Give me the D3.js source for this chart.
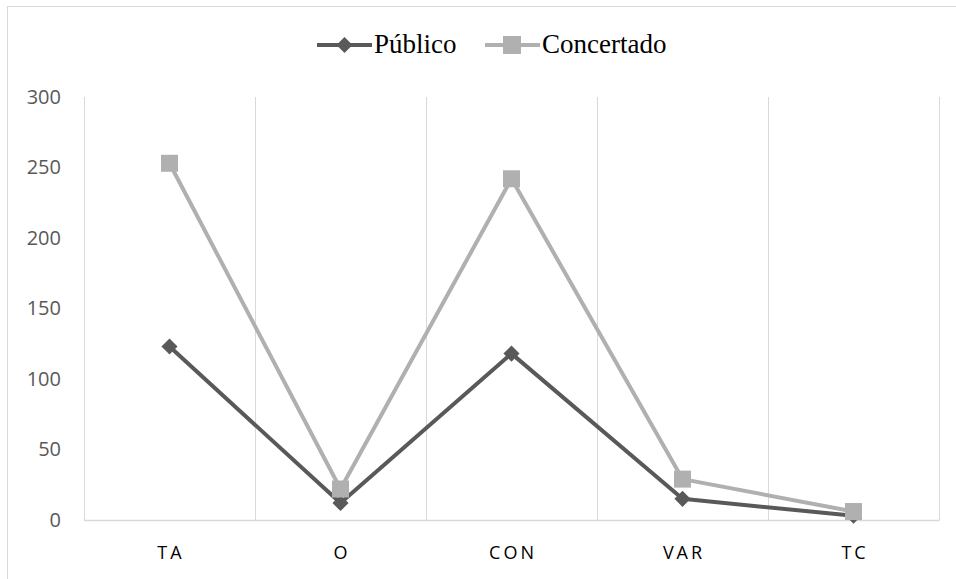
<!DOCTYPE html>
<html>
<head>
<meta charset="utf-8">
<script src="https://cdn.jsdelivr.net/npm/d3@7"></script>
<style>
  html, body { margin: 0; padding: 0; background: #fff; }
  svg { display: block; }
</style>
</head>
<body>
<svg id="chart" width="956" height="579"></svg>
<script>
// Categories and series
const categories = ["TA", "O", "CON", "VAR", "TC"];
const publico = [123, 12, 118, 15, 3];
const concertado = [253, 22, 242, 29, 6];
const yTicks = [0, 50, 100, 150, 200, 250, 300];
const seriesNames = ["Público", "Concertado"];

const svg = d3.select("#chart");
const W = 956, H = 579;
const plot = { left: 84, right: 939, top: 97, bottom: 520 };

// Outer frame (its right and bottom edges fall outside the canvas)
svg.append("rect")
  .attr("x", 7.5).attr("y", 6.5)
  .attr("width", W + 20).attr("height", H + 20)
  .attr("fill", "#fff").attr("stroke", "#d9d9d9").attr("stroke-width", 1);

const x = d3.scaleBand().domain(categories).range([plot.left, plot.right]).padding(0);
const y = d3.scaleLinear().domain([0, 300]).range([plot.bottom, plot.top]);

// Vertical gridlines at category boundaries
const bounds = categories.map(c => x(c)).concat([plot.right]);
svg.append("g").selectAll("line").data(bounds).join("line")
  .attr("x1", d => Math.round(d) + 0.5).attr("x2", d => Math.round(d) + 0.5)
  .attr("y1", plot.top).attr("y2", plot.bottom)
  .attr("stroke", "#d9d9d9").attr("stroke-width", 1);

// Baseline
svg.append("line")
  .attr("x1", plot.left).attr("x2", plot.right + 0.5)
  .attr("y1", y(0) + 0.5).attr("y2", y(0) + 0.5)
  .attr("stroke", "#d9d9d9").attr("stroke-width", 1.5);

// Y axis labels
const yAxis = d3.axisLeft(y).tickValues(yTicks).tickSize(0).tickPadding(23);
const gy = svg.append("g").attr("transform", `translate(${plot.left},0)`).call(yAxis);
gy.select(".domain").remove();
gy.selectAll("text")
  .attr("font-family", "Open Sans, Liberation Sans, sans-serif")
  .attr("font-size", 20).attr("fill", "#595959");

// X axis labels
const xAxis = d3.axisBottom(x).tickSize(0).tickPadding(26);
const gx = svg.append("g").attr("transform", `translate(0,${plot.bottom})`).call(xAxis);
gx.select(".domain").remove();
gx.selectAll("text")
  .attr("font-family", "Open Sans, Liberation Sans, sans-serif")
  .attr("font-size", 18).attr("fill", "#000")
  .attr("letter-spacing", "3px")
  .attr("dx", "1.5px");

const cx = c => x(c) + x.bandwidth() / 2;
const line = d3.line().x(d => cx(d.c)).y(d => y(d.v));

const dark = "#595959", light = "#b0b0b0";
const concData = categories.map((c, i) => ({ c, v: concertado[i] }));
const pubData = categories.map((c, i) => ({ c, v: publico[i] }));

const diamond = d3.symbol().type(d3.symbolDiamond2).size(165);

// Público series
svg.append("path").datum(pubData)
  .attr("d", line).attr("fill", "none")
  .attr("stroke", dark).attr("stroke-width", 4).attr("stroke-linejoin", "round");
svg.append("g").selectAll("path").data(pubData).join("path")
  .attr("d", diamond)
  .attr("transform", d => `translate(${cx(d.c)},${y(d.v)})`)
  .attr("fill", dark);

// Concertado series
svg.append("path").datum(concData)
  .attr("d", line).attr("fill", "none")
  .attr("stroke", light).attr("stroke-width", 4).attr("stroke-linejoin", "round");
svg.append("g").selectAll("rect").data(concData).join("rect")
  .attr("x", d => cx(d.c) - 8.5).attr("y", d => y(d.v) - 8.5)
  .attr("width", 17).attr("height", 17)
  .attr("fill", light);

// Legend
const legend = svg.append("g");
const legendItems = [
  { name: seriesNames[0], color: dark, x0: 317, kind: "diamond" },
  { name: seriesNames[1], color: light, x0: 485, kind: "square" }
];
legendItems.forEach(it => {
  const ly = 45;
  legend.append("line")
    .attr("x1", it.x0).attr("x2", it.x0 + 55)
    .attr("y1", ly).attr("y2", ly)
    .attr("stroke", it.color).attr("stroke-width", 4);
  if (it.kind === "diamond") {
    legend.append("path").attr("d", diamond)
      .attr("transform", `translate(${it.x0 + 27.5},${ly})`).attr("fill", it.color);
  } else {
    legend.append("rect")
      .attr("x", it.x0 + 18).attr("y", ly - 9).attr("width", 18).attr("height", 18)
      .attr("fill", it.color);
  }
  legend.append("text")
    .attr("x", it.x0 + 57).attr("y", ly + 8)
    .attr("font-family", "Liberation Serif, Times New Roman, serif")
    .attr("font-size", 27).attr("fill", "#000")
    .text(it.name);
});
</script>
</body>
</html>
